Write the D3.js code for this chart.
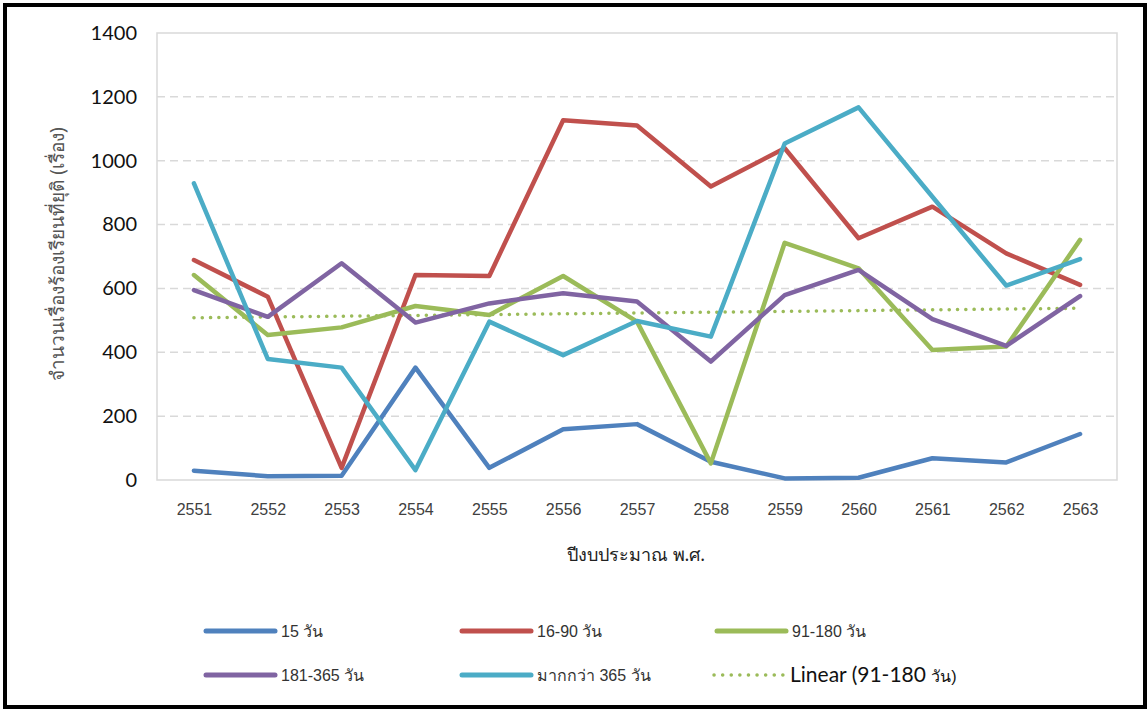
<!DOCTYPE html>
<html>
<head>
<meta charset="utf-8">
<script src="https://cdn.jsdelivr.net/npm/d3@7"></script>
<style>
  html, body { margin: 0; padding: 0; background: #fff; }
  svg { display: block; }
</style>
</head>
<body>
<svg id="chart" width="1148" height="711"></svg>
<script>
// ---- data ----
const years = ["2551","2552","2553","2554","2555","2556","2557","2558","2559","2560","2561","2562","2563"];
const s15      = [29, 12, 13, 352, 38, 159, 175, 57, 5, 7, 68, 55, 144];
const s16_90   = [689, 574, 38, 642, 639, 1127, 1110, 919, 1039, 757, 856, 710, 611];
const s91_180  = [642, 454, 478, 545, 517, 639, 496, 52, 743, 663, 407, 418, 752];
const s181_365 = [595, 511, 679, 493, 553, 585, 559, 371, 579, 658, 504, 420, 576];
const sOver365 = [929, 379, 352, 31, 496, 391, 498, 449, 1054, 1167, 887, 609, 692];
const trendYears = ["2551", "2563"];
const trendValues = [508, 538];
const yTicks = [0, 200, 400, 600, 800, 1000, 1200, 1400];
const seriesNames = ["15 วัน", "16-90 วัน", "91-180 วัน", "181-365 วัน", "มากกว่า 365 วัน"];
const seriesColors = ["#4F81BD", "#C0504D", "#9BBB59", "#8064A2", "#4BACC6"];
const seriesData = [s15, s16_90, s91_180, s181_365, sOver365];

// ---- layout ----
const svg = d3.select("#chart");
const L = 157, R = 1117, T = 33, B = 480;

// frame
svg.append("rect").attr("x", 5).attr("y", 5).attr("width", 1140).attr("height", 702)
  .attr("fill", "none").attr("stroke", "#000").attr("stroke-width", 4);

const x = d3.scalePoint().domain(years).range([L, R]).padding(0.5);
const y = d3.scaleLinear().domain([0, 1400]).range([B, T]);

// gridlines
svg.append("g").selectAll("line").data(yTicks.filter(d => d > 0 && d < 1400)).join("line")
  .attr("x1", L).attr("x2", R).attr("y1", d => y(d)).attr("y2", d => y(d))
  .attr("stroke", "#d9d9d9").attr("stroke-width", 1.5).attr("stroke-dasharray", "8,5");

// plot border
svg.append("rect").attr("x", L).attr("y", T).attr("width", R - L).attr("height", B - T)
  .attr("fill", "none").attr("stroke", "#d9d9d9").attr("stroke-width", 1.5);

// y axis
const yAxis = d3.axisLeft(y).tickValues(yTicks).tickFormat(d3.format("d")).tickSize(0).tickPadding(20);
const gy = svg.append("g").attr("transform", `translate(${L},0)`).call(yAxis);
gy.select(".domain").remove();
gy.selectAll("text").attr("font-family", "Lato, 'Open Sans', sans-serif").attr("font-size", 20).attr("fill", "#111");

// x axis
const xAxis = d3.axisBottom(x).tickSize(0).tickPadding(24);
const gx = svg.append("g").attr("transform", `translate(0,${B})`).call(xAxis);
gx.select(".domain").remove();
gx.selectAll("text").attr("font-family", "'Liberation Sans Narrow', 'Arial Narrow', sans-serif").attr("font-size", 16).attr("fill", "#404040");

// axis titles
svg.append("text").attr("x", 636).attr("y", 561).attr("text-anchor", "middle")
  .attr("font-family", "'Liberation Sans Narrow', 'Noto Sans', sans-serif").attr("font-size", 18).attr("fill", "#222")
  .text("ปีงบประมาณ พ.ศ.");
svg.append("text").attr("transform", "translate(64,254) rotate(-90)").attr("text-anchor", "middle")
  .attr("font-family", "'Liberation Sans Narrow', 'Noto Sans', sans-serif").attr("font-size", 19).attr("fill", "#555")
  .text("จำนวนเรื่องร้องเรียนที่ยุติ (เรื่อง)");

// trend line
const line = d3.line().x((d, i) => x(years[i])).y(d => y(d));
svg.append("path")
  .datum(trendValues)
  .attr("d", d3.line().x((d, i) => x(trendYears[i])).y(d => y(d)))
  .attr("fill", "none").attr("stroke", "#9BBB59").attr("stroke-width", 3.5)
  .attr("stroke-linecap", "round").attr("stroke-dasharray", "0.1,8.2");

// series lines
seriesData.forEach((s, k) => {
  svg.append("path").datum(s).attr("d", line)
    .attr("fill", "none").attr("stroke", seriesColors[k]).attr("stroke-width", 4.5)
    .attr("stroke-linejoin", "round").attr("stroke-linecap", "round");
});

// legend
const legendPos = [[206, 631], [462, 631], [717, 631], [206, 675], [462, 675], [717, 675]];
seriesNames.forEach((n, k) => {
  const [lx, ly] = legendPos[k];
  svg.append("line").attr("x1", lx).attr("x2", lx + 69).attr("y1", ly).attr("y2", ly)
    .attr("stroke", seriesColors[k]).attr("stroke-width", 5).attr("stroke-linecap", "round");
  svg.append("text").attr("x", lx + 75).attr("y", ly + 6)
    .attr("font-family", "'Liberation Sans Narrow', 'Arial Narrow', sans-serif").attr("font-size", 16).attr("fill", "#333")
    .text(n);
});
{
  const [lx, ly] = legendPos[5];
  svg.append("line").attr("x1", lx - 3).attr("x2", lx + 66).attr("y1", ly).attr("y2", ly)
    .attr("stroke", "#9BBB59").attr("stroke-width", 3.5).attr("stroke-linecap", "round").attr("stroke-dasharray", "0.1,8.5");
  const t = svg.append("text").attr("x", lx + 73).attr("y", ly + 7)
    .attr("font-family", "Lato, 'Open Sans', sans-serif").attr("font-size", 21).attr("fill", "#111");
  t.append("tspan").text("Linear (91-180 ");
  t.append("tspan").attr("font-size", 16).attr("font-family", "'Liberation Sans Narrow', sans-serif").text("วัน)");
}
</script>
</body>
</html>
